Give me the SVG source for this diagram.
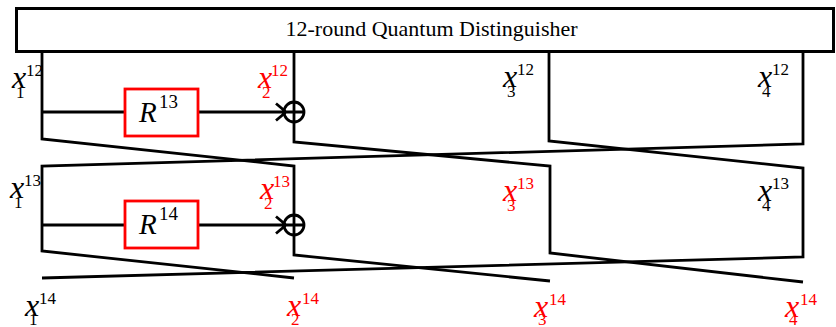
<svg xmlns="http://www.w3.org/2000/svg" width="836" height="327" viewBox="0 0 836 327">
<defs>
<style>
.w{fill:none;stroke:#000;stroke-width:2.8;stroke-linejoin:miter;stroke-miterlimit:10}
.f{fill:#fff;stroke:#f00;stroke-width:2.8}
.v{font-style:italic;font-size:32px}
.s{font-size:17px}
.blk{fill:#000}
.red{fill:#f00}
</style>
</defs>
<rect width="836" height="327" fill="#fff"/>
<g id="distinguisher">
<rect x="16.5" y="8.5" width="817" height="43" fill="#fff" stroke="#000" stroke-width="3"/>
<text font-family="'Liberation Serif', 'Times New Roman', serif" font-size="22" fill="#000" x="285.5" y="36">12-round Quantum Distinguisher</text>
</g>
<g id="connectors">
<path class="w" d="M42,52 V139 L294,166 V255 L550,281"/>
<path class="w" d="M294,52 V142 L550,166 V253 L803,282"/>
<path class="w" d="M549,52 V141 L803,168 V257 L42,278"/>
<path class="w" d="M803,52 V144 L42,166 V251 L294,278"/>
<path class="w" d="M42,112 H125 M198,112 H304 M276,103.5 L286,112 L276,120.5"/>
<path class="w" d="M42,225 H125 M198,225 H304 M276,216.5 L286,225 L276,233.5"/>
<circle class="w" cx="294" cy="112" r="10"/>
<circle class="w" cx="294" cy="225" r="10"/>
</g>
<g id="R13" font-family="'Liberation Serif', 'Times New Roman', serif">
<rect class="f" x="125" y="89" width="73" height="47"/>
<text fill="#000"><tspan x="139" y="122" font-size="29" font-style="italic">R</tspan><tspan x="159" y="108" font-size="19">13</tspan></text>
</g>
<g id="R14" font-family="'Liberation Serif', 'Times New Roman', serif">
<rect class="f" x="125" y="201" width="73" height="47"/>
<text fill="#000"><tspan x="139" y="234" font-size="29" font-style="italic">R</tspan><tspan x="159" y="220" font-size="19">14</tspan></text>
</g>
<g id="labels" font-family="'Liberation Serif', 'Times New Roman', serif">
<g id="x1_12"><text class="blk"><tspan class="v" x="12" y="88">x</tspan><tspan class="s" x="16" y="98">1</tspan><tspan class="s" x="26" y="76">12</tspan></text></g>
<g id="x2_12"><text class="red"><tspan class="v" x="258" y="88">x</tspan><tspan class="s" x="262" y="98">2</tspan><tspan class="s" x="271" y="76">12</tspan></text></g>
<g id="x3_12"><text class="blk"><tspan class="v" x="503" y="87">x</tspan><tspan class="s" x="507" y="97">3</tspan><tspan class="s" x="517" y="75">12</tspan></text></g>
<g id="x4_12"><text class="blk"><tspan class="v" x="758" y="87">x</tspan><tspan class="s" x="762" y="97">4</tspan><tspan class="s" x="772" y="75">12</tspan></text></g>
<g id="x1_13"><text class="blk"><tspan class="v" x="10" y="198">x</tspan><tspan class="s" x="14" y="208">1</tspan><tspan class="s" x="24" y="186">13</tspan></text></g>
<g id="x2_13"><text class="red"><tspan class="v" x="260" y="199">x</tspan><tspan class="s" x="264" y="209">2</tspan><tspan class="s" x="273" y="187">13</tspan></text></g>
<g id="x3_13"><text class="red"><tspan class="v" x="503" y="201">x</tspan><tspan class="s" x="507" y="211">3</tspan><tspan class="s" x="517" y="189">13</tspan></text></g>
<g id="x4_13"><text class="blk"><tspan class="v" x="758" y="201">x</tspan><tspan class="s" x="762" y="211">4</tspan><tspan class="s" x="772" y="189">13</tspan></text></g>
<g id="x1_14"><text class="blk"><tspan class="v" x="25" y="316">x</tspan><tspan class="s" x="29" y="325">1</tspan><tspan class="s" x="39" y="304">14</tspan></text></g>
<g id="x2_14"><text class="red"><tspan class="v" x="287" y="316">x</tspan><tspan class="s" x="291" y="325">2</tspan><tspan class="s" x="302" y="304">14</tspan></text></g>
<g id="x3_14"><text class="red"><tspan class="v" x="534" y="317">x</tspan><tspan class="s" x="538" y="325">3</tspan><tspan class="s" x="549" y="305">14</tspan></text></g>
<g id="x4_14"><text class="red"><tspan class="v" x="785" y="317">x</tspan><tspan class="s" x="789" y="325">4</tspan><tspan class="s" x="800" y="305">14</tspan></text></g>
</g>
</svg>
